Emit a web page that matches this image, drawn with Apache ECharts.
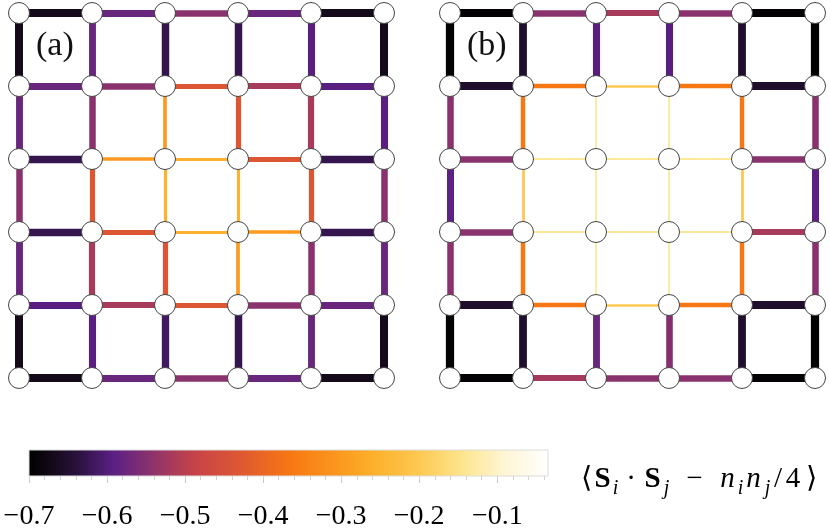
<!DOCTYPE html>
<html><head><meta charset="utf-8">
<script src="https://cdn.jsdelivr.net/npm/echarts@6/dist/echarts.min.js"></script>
<style>html,body{margin:0;padding:0;background:#fff}#c{width:830px;height:532px}</style>
</head><body><div id="c"></div>
<script>
// Horizontal bonds: rows (top->bottom), 5 bonds each (left->right)
const aH = [
  [-0.670, -0.577, -0.544, -0.577, -0.670],
  [-0.577, -0.544, -0.434, -0.517, -0.594],
  [-0.627, -0.300, -0.254, -0.434, -0.627],
  [-0.627, -0.434, -0.254, -0.300, -0.627],
  [-0.594, -0.517, -0.434, -0.544, -0.577],
  [-0.670, -0.577, -0.544, -0.577, -0.670]
];
// Vertical bonds: columns (left->right), 5 bonds each (top->bottom)
const aV = [
  [-0.670, -0.577, -0.544, -0.577, -0.670],
  [-0.577, -0.544, -0.434, -0.517, -0.594],
  [-0.627, -0.300, -0.254, -0.434, -0.615],
  [-0.627, -0.434, -0.254, -0.300, -0.627],
  [-0.594, -0.517, -0.434, -0.544, -0.577],
  [-0.670, -0.594, -0.544, -0.577, -0.670]
];
const bH = [
  [-0.693, -0.544, -0.517, -0.544, -0.693],
  [-0.653, -0.367, -0.200, -0.367, -0.653],
  [-0.544, -0.135, -0.135, -0.135, -0.544],
  [-0.544, -0.135, -0.135, -0.135, -0.517],
  [-0.653, -0.367, -0.200, -0.367, -0.653],
  [-0.693, -0.520, -0.544, -0.544, -0.693]
];
const bV = [
  [-0.693, -0.544, -0.590, -0.544, -0.693],
  [-0.653, -0.367, -0.210, -0.367, -0.653],
  [-0.594, -0.135, -0.135, -0.135, -0.577],
  [-0.594, -0.135, -0.135, -0.135, -0.550],
  [-0.653, -0.367, -0.210, -0.367, -0.653],
  [-0.693, -0.544, -0.590, -0.544, -0.693]
];
const panelLabels = ['(a)', '(b)'];
const cbMin = -0.7, cbMax = -0.035;
const cbTicks = [-0.7, -0.6, -0.5, -0.4, -0.3, -0.2, -0.1];
const cbMinorTicks = [-0.7,-0.68,-0.66,-0.64,-0.62,-0.6,-0.58,-0.56,-0.54,-0.52,-0.5,-0.48,-0.46,-0.44,-0.42,-0.4,-0.38,-0.36,-0.34,-0.32,-0.3,-0.28,-0.26,-0.24,-0.22,-0.2,-0.18,-0.16,-0.14,-0.12,-0.1,-0.08,-0.06,-0.04];

const CMAP = [[0,'#000000'],[0.046,'#140a1a'],[0.098,'#2c1240'],[0.162,'#5a2084'],[0.227,'#853070'],[0.272,'#a53a5c'],[0.324,'#c84448'],[0.40,'#dc5634'],[0.505,'#f77812'],[0.58,'#fb921c'],[0.663,'#fcb02a'],[0.748,'#fdc850'],[0.836,'#fde58e'],[0.913,'#fef5d2'],[1,'#ffffff']];
function hex2rgb(h){return [parseInt(h.substr(1,2),16),parseInt(h.substr(3,2),16),parseInt(h.substr(5,2),16)];}
function cmap(v){
  let f=(v-cbMin)/(cbMax-cbMin); f=Math.max(0,Math.min(1,f));
  for(let i=0;i<CMAP.length-1;i++){
    const [o0,c0]=CMAP[i],[o1,c1]=CMAP[i+1];
    if(f<=o1){const t=(f-o0)/(o1-o0);const a=hex2rgb(c0),b=hex2rgb(c1);
      return 'rgb('+a.map((x,k)=>Math.round(x+(b[k]-x)*t)).join(',')+')';}
  }
  return CMAP[CMAP.length-1][1];
}
function bondWidth(v){return 11.6*Math.abs(v)+0.2;}
function bonds(H,V){
  const out=[];
  H.forEach((row,r)=>row.forEach((v,c)=>out.push({coords:[[c,r],[c+1,r]],value:v,lineStyle:{color:cmap(v),width:bondWidth(v),opacity:1}})));
  V.forEach((col,c)=>col.forEach((v,r)=>out.push({coords:[[c,r],[c,r+1]],value:v,lineStyle:{color:cmap(v),width:bondWidth(v),opacity:1}})));
  return out;
}
const nodes=[];for(let r=0;r<6;r++)for(let c=0;c<6;c++)nodes.push([c,r]);

const chart=echarts.init(document.getElementById('c'),null,{renderer:'canvas'});
const SERIF='Liberation Serif';
const latAxis=(gi)=>({gridIndex:gi,type:'value',min:0,max:5,show:false});
const latY=(gi)=>({gridIndex:gi,type:'value',min:0,max:5,inverse:true,show:false});
const base={fontFamily:SERIF,fontSize:29,fill:'#000',lineHeight:38,verticalAlign:'middle',align:'center'};
const sub={fontFamily:SERIF,fontSize:20,fontStyle:'italic',fill:'#000',lineHeight:24,verticalAlign:'bottom',align:'center'};
chart.setOption({
  animation:false,
  textStyle:{fontFamily:SERIF},
  grid:[
    {left:19,top:13,width:365,height:365},
    {left:450,top:13,width:365,height:365},
    {left:29,top:450,width:519,height:26}
  ],
  xAxis:[latAxis(0),latAxis(1),
    {gridIndex:2,type:'value',min:cbMin,max:cbMax,position:'bottom',
     axisLine:{show:false},splitLine:{show:false},
     axisTick:{show:true,customValues:cbTicks,length:7,lineStyle:{color:'#c8c8c8',width:1}},
     axisLabel:{show:true,customValues:cbTicks,margin:27,fontFamily:SERIF,fontSize:28,color:'#000',
       formatter:v=>'\u2212'+Math.abs(v).toFixed(1)}},
    {gridIndex:2,type:'value',min:cbMin,max:cbMax,position:'bottom',
     axisLine:{show:false},splitLine:{show:false},axisLabel:{show:false},
     axisTick:{show:true,customValues:cbMinorTicks,length:4,lineStyle:{color:'#d0d0d0',width:1}}}
  ],
  yAxis:[latY(0),latY(1),{gridIndex:2,type:'value',min:0,max:1,show:false}],
  series:[
    {type:'lines',coordinateSystem:'cartesian2d',xAxisIndex:0,yAxisIndex:0,clip:false,lineStyle:{opacity:1,curveness:0},data:bonds(aH,aV),z:2,silent:true},
    {type:'lines',coordinateSystem:'cartesian2d',xAxisIndex:1,yAxisIndex:1,clip:false,lineStyle:{opacity:1,curveness:0},data:bonds(bH,bV),z:2,silent:true},
    {type:'scatter',xAxisIndex:0,yAxisIndex:0,clip:false,data:nodes,symbol:'circle',symbolSize:21,itemStyle:{color:'#fff',borderColor:'#444',borderWidth:1,opacity:1},z:5,silent:true},
    {type:'scatter',xAxisIndex:1,yAxisIndex:1,clip:false,data:nodes,symbol:'circle',symbolSize:21,itemStyle:{color:'#fff',borderColor:'#444',borderWidth:1,opacity:1},z:5,silent:true},
    {type:'custom',xAxisIndex:2,yAxisIndex:2,data:[[cbMin,cbMax]],silent:true,
     renderItem:function(params,api){
       const p0=api.coord([api.value(0),1]);const p1=api.coord([api.value(1),0]);
       return {type:'rect',shape:{x:p0[0],y:p0[1],width:p1[0]-p0[0],height:p1[1]-p0[1]},
         style:{fill:new echarts.graphic.LinearGradient(0,0,1,0,CMAP.map(s=>({offset:s[0],color:s[1]}))),stroke:'#dcdcdc',lineWidth:1}};
     }}
  ],
  graphic:[
    {type:'text',left:36,top:29,style:{text:panelLabels[0],fontFamily:SERIF,fontSize:34,fill:'#111'}},
    {type:'text',left:467,top:29,style:{text:panelLabels[1],fontFamily:SERIF,fontSize:34,fill:'#111'}},
    {type:'text',left:580,top:465,style:{
      text:'{lb|⟨}{S|S}{si|i}{dot|·}{S|S}{sj|j}{mi|−}{n|n}{si|i}{n|n}{sj|j}{sl|/}{four|4}{rb|⟩}',
      rich:{
        lb:Object.assign({},base,{width:13}),
        rb:Object.assign({},base,{width:19}),
        S:Object.assign({},base,{fontWeight:'bold',width:19}),
        n:Object.assign({},base,{fontStyle:'italic',width:19}),
        dot:Object.assign({},base,{width:24}),
        mi:Object.assign({},base,{width:47}),
        sl:Object.assign({},base,{width:12}),
        four:Object.assign({},base,{width:18}),
        si:Object.assign({},sub,{width:7}),
        sj:Object.assign({},sub,{width:9})
      }}}
  ]
});
</script></body></html>
